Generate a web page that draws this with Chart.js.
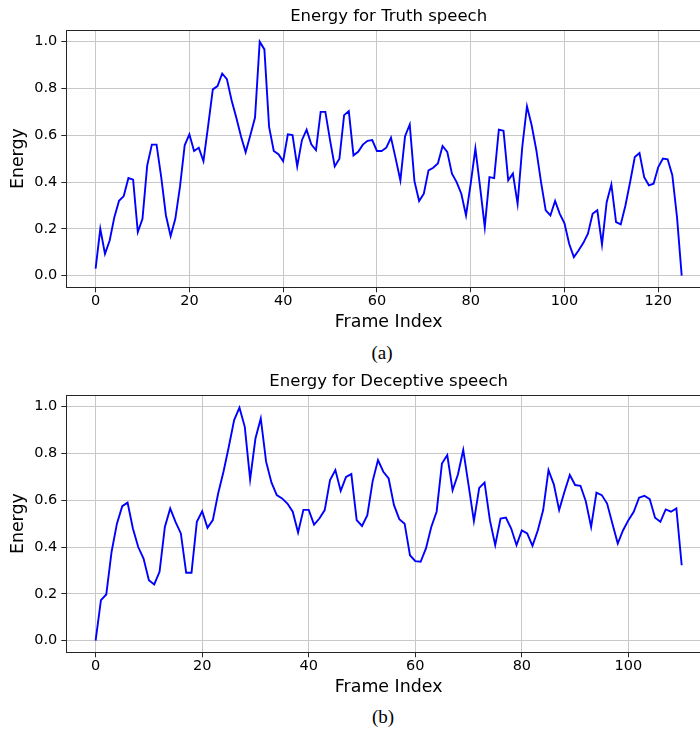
<!DOCTYPE html>
<html><head><meta charset="utf-8">
<script src="https://cdn.jsdelivr.net/npm/chart.js@4/dist/chart.umd.min.js"></script>
<style>
html,body{margin:0;padding:0;background:#fff;width:700px;height:733px;overflow:hidden;position:relative;}
.wrap{position:absolute;left:0;width:760px;height:340px;}
canvas{display:block;}
.cap{position:absolute;font-family:"Liberation Serif","Times New Roman",serif;font-size:19px;color:#000;transform:translate(-50%,-50%);white-space:nowrap;}
</style></head>
<body>
<div class="wrap" style="top:0"><canvas id="c1" width="760" height="340"></canvas></div>
<div class="wrap" style="top:365px"><canvas id="c2" width="760" height="340"></canvas></div>
<div class="cap" style="left:382px;top:353px">(a)</div>
<div class="cap" style="left:383px;top:717px">(b)</div>
<script>
const truthTitle = "Energy for Truth speech";
const deceptiveTitle = "Energy for Deceptive speech";
const xAxisTitle = "Frame Index";
const yAxisTitle = "Energy";

const truthEnergy = [
0.03,0.20,0.093,0.15,0.25,0.32,0.34,0.417,0.41,0.186,
0.243,0.47,0.56,0.56,0.42,0.257,0.169,0.243,0.38,0.557,
0.604,0.533,0.547,0.489,0.64,0.796,0.81,0.864,0.84,0.75,
0.676,0.596,0.527,0.60,0.676,1.0,0.967,0.636,0.533,0.519,
0.489,0.604,0.601,0.467,0.579,0.624,0.561,0.536,0.70,0.70,
0.579,0.467,0.50,0.686,0.703,0.514,0.529,0.56,0.576,0.579,
0.533,0.533,0.547,0.59,0.50,0.407,0.596,0.646,0.404,0.319,
0.35,0.45,0.461,0.479,0.554,0.529,0.436,0.40,0.35,0.257,
0.393,0.543,0.379,0.207,0.421,0.417,0.624,0.619,0.407,0.436,
0.307,0.55,0.724,0.643,0.536,0.40,0.279,0.257,0.319,0.264,
0.224,0.136,0.079,0.107,0.139,0.179,0.264,0.279,0.133,0.314,
0.39,0.229,0.219,0.30,0.40,0.507,0.524,0.421,0.386,0.393,
0.464,0.50,0.497,0.429,0.25,0.0];

const deceptiveEnergy = [
0.0,0.173,0.197,0.38,0.50,0.575,0.59,0.479,0.40,0.351,
0.258,0.24,0.294,0.486,0.565,0.508,0.458,0.29,0.29,0.508,
0.553,0.482,0.515,0.629,0.722,0.829,0.943,0.996,0.914,0.689,
0.864,0.95,0.765,0.676,0.622,0.608,0.586,0.551,0.462,0.559,
0.559,0.496,0.522,0.558,0.686,0.729,0.64,0.70,0.712,0.515,
0.49,0.536,0.682,0.772,0.722,0.693,0.579,0.519,0.50,0.365,
0.34,0.337,0.394,0.486,0.551,0.757,0.793,0.643,0.71,0.815,
0.665,0.511,0.653,0.676,0.515,0.408,0.522,0.526,0.479,0.408,
0.471,0.458,0.405,0.472,0.558,0.729,0.668,0.558,0.636,0.708,
0.665,0.662,0.596,0.486,0.633,0.622,0.586,0.50,0.415,0.472,
0.515,0.551,0.611,0.619,0.605,0.525,0.508,0.561,0.551,0.565,
0.322];

const truthXTicks = [0,20,40,60,80,100,120];
const deceptiveXTicks = [0,20,40,60,80,100];
const yTicks = [0.0,0.2,0.4,0.6,0.8,1.0];

Chart.defaults.font.family = '"DejaVu Sans", sans-serif';
Chart.defaults.color = '#000';

const framePlugin = {
  id: 'frameTitle',
  afterDraw(chart, args, opts) {
    const {ctx, chartArea: a} = chart;
    ctx.save();
    ctx.strokeStyle = '#262626';
    ctx.lineWidth = 1;
    ctx.strokeRect(Math.round(a.left) + 0.5, Math.round(a.top) + 0.5, Math.round(a.right - a.left), Math.round(a.bottom - a.top));
    ctx.fillStyle = '#000';
    ctx.font = '16.5px "DejaVu Sans"';
    ctx.textAlign = 'center';
    ctx.textBaseline = 'middle';
    ctx.fillText(opts.text, (a.left + a.right) / 2, a.top - 13);
    ctx.restore();
  }
};

function makeChart(id, title, values, xTicks, xMin, xMax) {
  const gridColor = '#c8c8c8';
  return new Chart(document.getElementById(id), {
    type: 'line',
    data: {
      datasets: [{
        data: values.map((v, i) => ({x: i, y: v})),
        borderColor: '#0000ff',
        borderWidth: 1.9,
        pointRadius: 0,
        tension: 0,
        fill: false
      }]
    },
    options: {
      responsive: false,
      animation: false,
      devicePixelRatio: 1,
      layout: {padding: {left: 0, right: 49, top: 30, bottom: 0}},
      plugins: {
        legend: {display: false},
        tooltip: {enabled: false},
        title: {display: false},
        frameTitle: {text: title}
      },
      scales: {
        x: {
          type: 'linear',
          min: xMin, max: xMax,
          afterBuildTicks: s => { s.ticks = xTicks.map(v => ({value: v})); },
          afterFit: s => { s.height = 52.7; },
          ticks: {font: {size: 14.5}, padding: 0, maxRotation: 0, autoSkip: false, callback: v => String(v)},
          grid: {color: gridColor, lineWidth: 1, tickLength: 5, tickColor: '#262626', drawTicks: true},
          border: {display: true, color: '#262626', width: 1},
          title: {display: true, text: xAxisTitle, font: {size: 17.4}, padding: {top: 0, bottom: 7.5}}
        },
        y: {
          type: 'linear',
          min: -0.05, max: 1.05,
          afterBuildTicks: s => { s.ticks = yTicks.map(v => ({value: v})); },
          afterFit: s => { s.width = 66.3; },
          ticks: {font: {size: 14.5}, padding: 4, callback: v => Number(v).toFixed(1)},
          grid: {color: gridColor, lineWidth: 1, tickLength: 5, tickColor: '#262626', drawTicks: true},
          border: {display: true, color: '#262626', width: 1},
          title: {display: true, text: yAxisTitle, font: {size: 17.4}, padding: {top: 7.6, bottom: 0}}
        }
      }
    },
    plugins: [framePlugin]
  });
}

makeChart('c1', truthTitle, truthEnergy, truthXTicks, -6.25, 131.25);
makeChart('c2', deceptiveTitle, deceptiveEnergy, deceptiveXTicks, -5.5, 115.5);
</script>
</body></html>
